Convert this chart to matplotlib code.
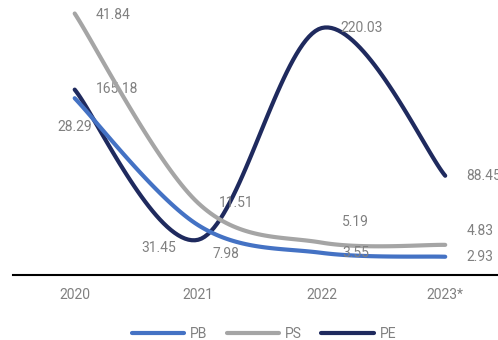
import numpy as np
import matplotlib.pyplot as plt

plt.rcParams['font.family'] = ['Roboto', 'DejaVu Sans']

years = ['2020', '2021', '2022', '2023*']
pb = [28.29, 7.98, 3.55, 2.93]
ps = [41.84, 11.51, 5.19, 4.83]
pe = [165.18, 31.45, 220.03, 88.45]

c_pb = '#4472C4'
c_ps = '#A5A5A5'
c_pe = '#1F2A5E'
c_txt = '#808080'


def smooth(xs, ys, n=40):
    # Excel-style smoothed line: cubic Bezier segments, control points from neighbours
    xs = np.asarray(xs, float)
    ys = np.asarray(ys, float)
    px = np.concatenate([[xs[0]], xs, [xs[-1]]])
    py = np.concatenate([[ys[0]], ys, [ys[-1]]])
    outx, outy = [], []
    t = np.linspace(0, 1, n)
    for i in range(1, len(px) - 2):
        p0 = np.array([px[i], py[i]])
        p3 = np.array([px[i + 1], py[i + 1]])
        c1 = p0 + (np.array([px[i + 1], py[i + 1]]) - np.array([px[i - 1], py[i - 1]])) / 6
        c2 = p3 - (np.array([px[i + 2], py[i + 2]]) - np.array([px[i], py[i]])) / 6
        b = ((1 - t) ** 3)[:, None] * p0 + (3 * (1 - t) ** 2 * t)[:, None] * c1 \
            + (3 * (1 - t) * t ** 2)[:, None] * c2 + (t ** 3)[:, None] * p3
        outx.extend(b[:, 0])
        outy.extend(b[:, 1])
    return np.array(outx), np.array(outy)


fig = plt.figure(figsize=(4.98, 3.40), dpi=100)
ax = fig.add_axes([0.026, 0.191, 0.992, 0.809])
ax2 = ax.twinx()

x = np.arange(len(years))
sx, sy = smooth(x, pe)
l_pe, = ax.plot(sx, sy, color=c_pe, lw=3, solid_capstyle='round', label='PE')
sx, sy = smooth(x, pb)
l_pb, = ax2.plot(sx, sy, color=c_pb, lw=3, solid_capstyle='round', label='PB')
sx, sy = smooth(x, ps)
l_ps, = ax2.plot(sx, sy, color=c_ps, lw=3, solid_capstyle='round', label='PS')

ax.set_xlim(-0.5, 3.5)
ax.set_ylim(0, 245)
ax2.set_ylim(0, 44)

for a in (ax, ax2):
    for s in ['top', 'left', 'right']:
        a.spines[s].set_visible(False)
    a.set_yticks([])
ax2.spines['bottom'].set_visible(False)
ax.spines['bottom'].set_color('black')
ax.spines['bottom'].set_linewidth(1.5)
ax.set_xticks(x)
ax.set_xticklabels(years, fontsize=10, color=c_txt)
ax.tick_params(axis='x', length=0, pad=9)

# value labels, offsets in pixels
off_pe = [(42, 1), (-40, -8), (40, 0), (38, 0)]
off_pb = [(0, -29), (28, -29), (34, 0), (35, 0)]
off_ps = [(38, -1), (38, 0), (34, 21), (35, 14)]
for vals, offs, a in [(pe, off_pe, ax), (pb, off_pb, ax2), (ps, off_ps, ax2)]:
    for i, v in enumerate(vals):
        a.annotate(f'{v:.2f}', (i, v), xytext=offs[i], textcoords='offset pixels',
                   ha='center', va='center', fontsize=10, color=c_txt)

fig.legend(handles=[l_pb, l_ps, l_pe], loc='lower center', bbox_to_anchor=(0.53, -0.04),
           ncol=3, frameon=False, fontsize=10, handlelength=3.8, columnspacing=1.4,
           handletextpad=0.4, labelcolor=c_txt)

fig.savefig('out.png', dpi=100)
